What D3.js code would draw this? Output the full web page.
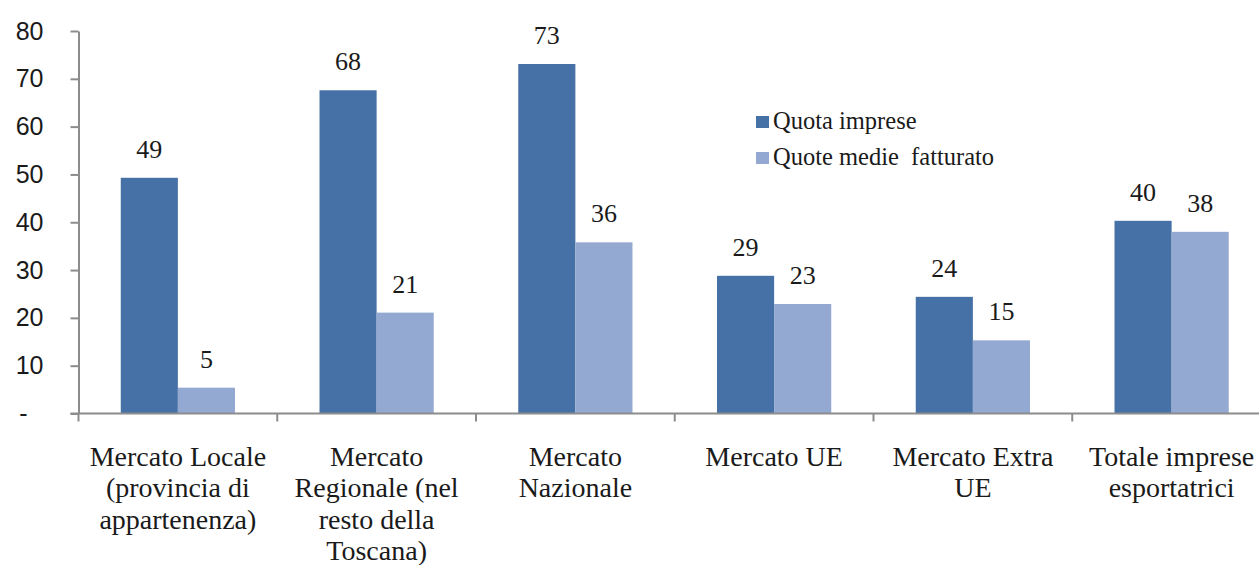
<!DOCTYPE html>
<html>
<head>
<meta charset="utf-8">
<script src="https://cdn.jsdelivr.net/npm/d3@7"></script>
<style>
  html, body { margin: 0; padding: 0; background: #fff; }
  svg { display: block; }
</style>
</head>
<body>
<svg id="chart" width="1259" height="565"></svg>
<script>
const categories = [
  "Mercato Locale (provincia di appartenenza)",
  "Mercato Regionale (nel resto della Toscana)",
  "Mercato Nazionale",
  "Mercato UE",
  "Mercato Extra UE",
  "Totale imprese esportatrici"
];
const categoryLines = [
  ["Mercato Locale", "(provincia di", "appartenenza)"],
  ["Mercato", "Regionale (nel", "resto della", "Toscana)"],
  ["Mercato", "Nazionale"],
  ["Mercato UE"],
  ["Mercato Extra", "UE"],
  ["Totale imprese", "esportatrici"]
];
const seriesNames = ["Quota imprese", "Quote medie  fatturato"];
const quotaImprese = [49.3, 67.6, 73.1, 28.8, 24.4, 40.3];
const quoteMedieFatturato = [5.4, 21.1, 35.8, 22.9, 15.3, 38.0];
const yTicks = [0, 10, 20, 30, 40, 50, 60, 70, 80];
const colors = ["#4571a6", "#93a9d1"];

const svg = d3.select("#chart");
const baseY = 413.5, topY = 31, leftX = 78.5, rightX = 1271;

const x = d3.scaleBand().domain(categories).range([leftX, rightX]).paddingInner(0).paddingOuter(0);
const x1 = d3.scaleBand().domain([0, 1]).range([0, x.bandwidth()]).paddingInner(0).paddingOuter(0.74);
const y = d3.scaleLinear().domain([0, 80]).range([baseY, topY]);

const series = [quotaImprese, quoteMedieFatturato];
const rows = categories.map((c, i) => ({ cat: c, vals: series.map(s => s[i]) }));

// bars
const groups = svg.append("g").selectAll("g").data(rows).join("g")
  .attr("transform", d => `translate(${x(d.cat)},0)`);
groups.selectAll("rect").data(d => d.vals.map((v, k) => ({ v, k }))).join("rect")
  .attr("x", d => x1(d.k))
  .attr("width", x1.bandwidth())
  .attr("y", d => y(d.v))
  .attr("height", d => baseY - y(d.v))
  .attr("fill", d => colors[d.k]);

// data labels
groups.selectAll("text").data(d => d.vals.map((v, k) => ({ v, k }))).join("text")
  .attr("x", d => x1(d.k) + x1.bandwidth() / 2)
  .attr("y", d => y(d.v) - 20)
  .attr("text-anchor", "middle")
  .style("font-family", "'Liberation Serif', 'Times New Roman', serif")
  .style("font-size", "26px")
  .attr("fill", "#1a1a1a")
  .text(d => Math.round(d.v));

// y axis
const yAxis = d3.axisLeft(y).tickValues(yTicks).tickSize(8).tickSizeOuter(0).tickPadding(27)
  .tickFormat(d => d === 0 ? "-" : d);
const gy = svg.append("g").attr("transform", `translate(${leftX},0)`).call(yAxis);
gy.select(".domain").attr("stroke", "#8c8c8c").attr("stroke-width", 2);
gy.selectAll(".tick line").attr("stroke", "#8c8c8c").attr("stroke-width", 2);
gy.selectAll(".tick text")
  .style("font-family", "'Liberation Sans', Arial, sans-serif")
  .style("font-size", "25px")
  .attr("fill", "#1a1a1a");
gy.selectAll(".tick").filter(d => d === 0).select("text").attr("x", -51);

// x axis baseline and boundary ticks
const gx = svg.append("g");
gx.append("line")
  .attr("x1", leftX - 8).attr("x2", 1259)
  .attr("y1", baseY).attr("y2", baseY)
  .attr("stroke", "#8c8c8c").attr("stroke-width", 2);
const bounds = categories.map(c => x(c)).concat([x.range()[1]]);
gx.selectAll("line.b").data(bounds).join("line").attr("class", "b")
  .attr("x1", d => d).attr("x2", d => d)
  .attr("y1", baseY).attr("y2", baseY + 8)
  .attr("stroke", "#8c8c8c").attr("stroke-width", 2);

// category labels
const catText = svg.append("g").selectAll("text").data(categories).join("text")
  .attr("text-anchor", "middle")
  .style("font-family", "'Liberation Serif', 'Times New Roman', serif")
  .style("font-size", "28px")
  .attr("fill", "#1a1a1a");
catText.each(function(c, i) {
  const t = d3.select(this);
  const cx = x(c) + x.bandwidth() / 2;
  categoryLines[i].forEach((line, j) => {
    t.append("tspan").attr("x", cx).attr("y", 466 + j * 31.4).text(line);
  });
});

// legend
const legend = svg.append("g").selectAll("g").data(seriesNames).join("g")
  .attr("transform", (d, i) => `translate(756,${116 + i * 36})`);
legend.append("rect").attr("width", 13).attr("height", 12).attr("fill", (d, i) => colors[i]);
legend.append("text")
  .attr("x", 17).attr("y", 12.5)
  .attr("xml:space", "preserve")
  .style("white-space", "pre")
  .style("font-family", "'Liberation Serif', 'Times New Roman', serif")
  .style("font-size", "24.5px")
  .attr("fill", "#1a1a1a")
  .text(d => d);
</script>
</body>
</html>
